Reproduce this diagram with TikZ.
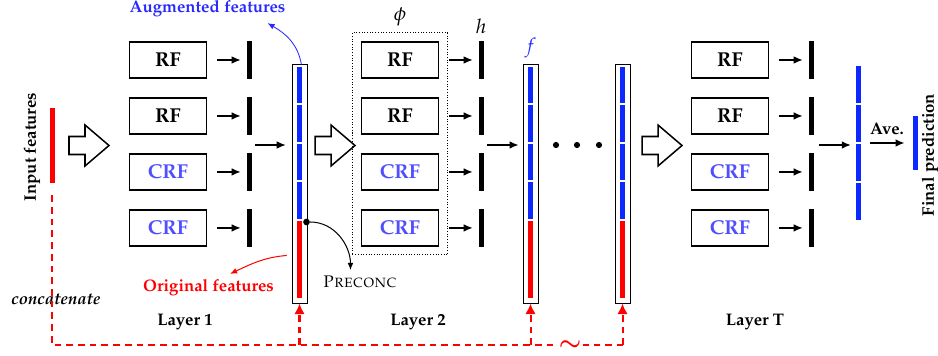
\documentclass[tikz,border=0pt]{standalone}
\usepackage[T1]{fontenc}
\usepackage{mathpazo}
\usepackage{tikz}
\usetikzlibrary{arrows.meta,positioning,calc,fit}
\definecolor{featblue}{HTML}{0A28FF}
\definecolor{crfblue}{HTML}{4F4FFF}
\definecolor{augblue}{HTML}{2A2AFF}
\definecolor{featred}{HTML}{FF0000}
\tikzset{
  >={Latex[length=1.9mm,width=1.6mm]},
  flow/.style={->,draw=black,line width=.9pt},
  treebox/.style={draw=black,line width=1pt,minimum width=1.62cm,minimum height=.76cm,
                  font=\large\bfseries,inner sep=0pt},
  rfbox/.style={treebox},
  crfbox/.style={treebox,text=crfblue},
  hbar/.style={fill=black,minimum width=.1cm,minimum height=.8cm,inner sep=0pt},
  featframe/.style={draw=black,fill=white,line width=.6pt,minimum width=.315cm,
                    minimum height=5cm,inner sep=0pt},
  colbar/.style={minimum width=.105cm,inner sep=0pt},
  blockarrow/.style={draw=black,line width=.9pt,fill=white,line join=miter},
  concatline/.style={draw=featred,dash pattern=on 4pt off 3pt,line width=1.2pt},
  group/.style={draw=black,densely dotted,line width=.6pt},
  labeltext/.style={font=\bfseries},
  mathlabel/.style={font=\large,inner sep=1pt},
  dotnode/.style={circle,fill=black,inner sep=0pt,minimum size=.13cm},
}
\begin{document}
\begin{tikzpicture}[x=0.021cm,y=-0.021cm,node distance=.38cm]
  \useasboundingbox (0,0) rectangle (938,356);
  % input
  \node[colbar,fill=featred,minimum height=1.575cm] (inp) at (52,145.5) {};
  \node[labeltext,rotate=90] (inlab) at (32,147) {Input features};
  \node[font=\bfseries\itshape] (cat) at (56,299) {concatenate};
  % layers
  \foreach \lay/\x in {a/168,b/400,t/730}{
    \node[rfbox] (\lay1) at (\x,60) {RF};
    \node[rfbox,below=of \lay1] (\lay2) {RF};
    \node[crfbox,below=of \lay2] (\lay3) {CRF};
    \node[crfbox,below=of \lay3] (\lay4) {CRF};
    \foreach \i in {1,...,4}{
      \node[hbar,right=.82cm of \lay\i] (\lay-h\i) {};
      \draw[flow,shorten <=.2cm,shorten >=.12cm] (\lay\i) -- (\lay-h\i);
    }
  }
  \foreach \x in {69,315,642}
    \draw[blockarrow] (\x,136.5) -- ++(16,0) -- ++(0,-11.5) -- ++(24,20.5)
      -- ++(-24,20.5) -- ++(0,-11.5) -- ++(-16,0) -- cycle;
  \node[group,fit=(b1)(b4),inner xsep=.17cm,inner ysep=.17cm] (grp) {};
  \node[mathlabel,above=1mm of grp] (phi) {$\phi$};
  \node[mathlabel,above=1mm of b-h1] (hlab) {$h$};
  % feature vectors
  \foreach \n/\x in {1/299.5,2/530.5,3/622.5}{
    \node[featframe] (f\n) at (\x,184) {};
    \foreach \k in {0,...,3}
      \fill[featblue] ($(f\n.north)+(-2.5,2.5+38.5*\k)$) rectangle ++(5,36.5);
    \fill[featred] ($(f\n.north)+(-2.5,156.5)$) rectangle ++(5,77);
  }
  \node[mathlabel,above=1mm of f2,text=augblue] (flab) {$f$};
  \coordinate (ain) at (255,145);
  \coordinate (bin) at (487,145);
  \coordinate (tin) at (819,145);
  \draw[flow,shorten >=.12cm] (ain) -- (f1.west |- ain);
  \draw[flow,shorten >=.08cm] (bin) -- (f2.west |- bin);
  \foreach \n/\x in {1/556,2/577,3/599}
    \node[dotnode] (dot\n) at (\x,145) {};
  % average and output
  \node[colbar,minimum height=3.234cm] (avg) at (858.5,143) {};
  \foreach \k in {0,...,3}
    \fill[featblue] ($(avg.north)+(-2.5,39*\k)$) rectangle ++(5,37.5);
  \draw[flow,shorten >=.1cm] (tin) -- (avg.west |- tin);
  \node[colbar,fill=featblue,minimum height=1.13cm] (pred) at (915.5,143) {};
  \draw[flow,shorten <=.19cm,shorten >=.17cm] (avg) -- node[above=1pt,labeltext] (ave) {Ave.} (pred);
  \node[labeltext,rotate=90] (predlab) at (930,155) {Final prediction};
  % concatenation
  \coordinate (bot) at (0,345);
  \draw[concatline] ([yshift=-.25cm]inp.south) -- (inp.south |- bot) -- (f3.south |- bot);
  \foreach \n in {1,2,3}
    \draw[concatline,-{Latex[length=2.2mm,width=2.2mm]}] (f\n.south |- bot) -- (f\n.south);
  \node[text=featred,fill=white,inner sep=1pt,font=\Large\boldmath] (wave) at (570,346) {$\sim$};
  % labels
  \node[labeltext] (l1) at (185,322) {Layer 1};
  \node[labeltext] (l2) at (418,322) {Layer 2};
  \node[labeltext] (lt) at (755,322) {Layer T};
  \node[labeltext,text=augblue] (aug) at (207.5,9) {Augmented features};
  \draw[-{Latex[length=1.5mm,width=1.2mm]},draw=augblue,line width=.5pt]
    ([xshift=.04cm]f1.north) to[out=100,in=-30] ([xshift=-.5cm]aug.south east);
  \node[labeltext,text=featred] (orig) at (208.5,288) {Original features};
  \draw[-{Latex[length=1.5mm,width=1.2mm]},draw=featred,line width=.6pt]
    ([xshift=-.1cm,yshift=-1.5cm]f1.west) to[out=185,in=25] ([xshift=.45cm]orig.north);
  \node[dotnode,minimum size=.14cm] (pdot) at (306.5,222) {};
  \node (prec) at (360,282) {\textsc{Preconc}};
  \draw[-{Latex[length=1.5mm,width=1.2mm]},line width=.6pt]
    (pdot) to[out=0,in=90] ([xshift=-.2cm]prec.north);
\end{tikzpicture}
\end{document}
